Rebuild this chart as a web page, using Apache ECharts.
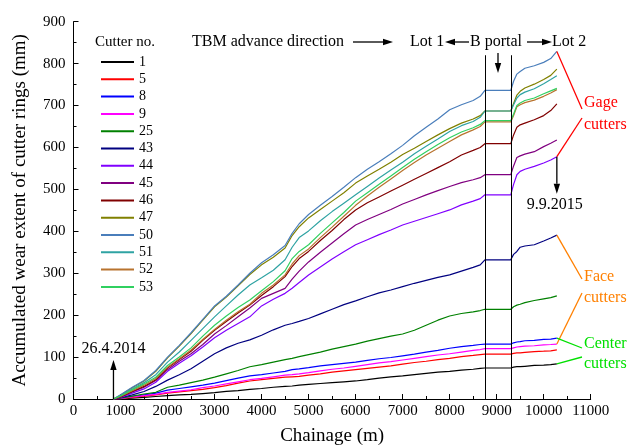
<!DOCTYPE html>
<html><head><meta charset="utf-8">
<script src="https://cdn.jsdelivr.net/npm/echarts@6/dist/echarts.min.js"></script>
<style>html,body{margin:0;padding:0;background:#fff}#c{width:627px;height:448px}</style>
</head><body><div id="c"></div><script>
// Chainage (m) at which the wear values are read
const chainage = [850,1000,1250,1500,1750,2000,2250,2500,2750,3000,3250,3500,3750,4000,4250,4500,4650,4800,5000,5250,5500,5750,6000,6250,6500,6750,7000,7250,7500,7750,8000,8250,8500,8650,8750,9300,9360,9430,9500,9600,9800,10000,10150,10280];
const cutterNames = ['1','5','8','9','25','43','44','45','46','47','50','51','52','53'];
const cutter1  = [0,0,2,4,6,8,10,11,13,15,18,20,23,25,28,30,31,33,35,37,39,41,43,46,50,53,55,58,61,64,66,69,71,73,74,74,76,77,77,78,80,81,82,84];
const cutter5  = [0,1,4,7,10,14,17,20,23,27,32,38,43,46,49,52,53,54,57,60,64,67,70,73,76,79,83,87,90,94,97,101,104,106,107,107,109,110,110,111,113,114,115,117];
const cutter8  = [0,2,6,10,14,21,25,29,33,38,44,50,55,58,62,66,70,72,75,79,82,85,88,92,96,99,103,107,112,116,121,125,128,130,131,131,134,136,137,139,140,142,143,145];
const cutter9  = [0,1,5,8,11,16,19,22,27,31,36,41,46,49,53,57,58,60,63,67,71,74,78,82,86,89,93,97,101,105,108,112,116,118,120,120,122,124,125,126,127,129,130,131];
const cutter25 = [0,2,7,12,16,28,33,39,45,52,60,68,77,82,88,94,97,101,106,112,119,125,131,138,144,150,155,164,176,188,198,204,208,211,214,214,220,224,226,230,235,239,242,246];
const cutter43 = [0,3,10,18,30,45,58,72,90,108,122,133,141,152,165,176,180,185,192,203,214,225,234,244,253,260,268,276,283,290,296,305,314,320,332,332,345,352,362,365,368,377,384,391];
const cutter44 = [0,4,14,24,40,66,85,103,124,146,164,180,196,222,238,252,264,278,296,315,334,351,368,380,392,403,415,424,433,442,451,463,472,478,487,487,512,535,543,548,555,563,570,578];
const cutter45 = [0,5,17,28,44,70,90,108,130,155,175,196,217,240,252,264,286,305,327,350,372,394,415,428,440,452,465,476,487,497,507,516,523,528,535,535,556,576,580,584,590,602,610,618];
const cutter46 = [0,5,18,30,46,74,94,114,140,164,185,205,224,247,268,292,316,335,352,378,402,428,451,468,482,496,510,524,538,552,566,582,593,600,609,609,630,648,654,658,666,676,688,704];
const cutter47 = [0,9,27,43,66,98,126,156,188,220,243,270,297,320,338,360,390,411,432,452,472,492,515,532,548,565,583,598,614,630,645,658,668,676,687,687,705,725,734,742,751,762,772,787];
const cutter50 = [0,10,28,44,68,100,128,158,190,222,245,272,300,325,344,366,395,418,440,462,483,505,528,548,566,585,605,628,648,668,690,702,712,722,736,736,758,775,781,789,795,803,812,829];
const cutter51 = [0,8,24,39,58,88,112,140,168,196,222,248,272,289,307,332,362,385,401,425,447,467,487,507,527,546,565,585,603,620,638,652,662,672,687,687,702,718,726,732,740,752,762,771];
const cutter52 = [0,6,20,33,49,76,96,117,142,166,188,208,226,252,272,296,322,342,358,385,410,436,462,484,505,525,545,564,582,598,614,630,642,650,661,661,676,697,702,707,713,722,730,738];
const cutter53 = [0,7,22,36,52,80,100,122,150,176,198,218,236,258,280,306,335,352,368,395,420,445,472,492,512,532,552,572,590,607,623,637,647,655,664,664,680,700,706,712,718,728,735,741];
const allValues = [cutter1,cutter5,cutter8,cutter9,cutter25,cutter43,cutter44,cutter45,cutter46,cutter47,cutter50,cutter51,cutter52,cutter53];
const xTicks = [0,1000,2000,3000,4000,5000,6000,7000,8000,9000,10000,11000];
const yTicks = [0,100,200,300,400,500,600,700,800,900];
const portalStart = 8750, portalEnd = 9300, portalLineTop = 820;
const startChainage = 850;

const colors = ['#000000','#FF0000','#0000FF','#FF00FF','#008000','#000080','#8000FF','#800080','#800000','#808000','#4A7EBB','#2FA3A3','#B8732E','#30D060'];
const FONT = "'Liberation Serif','Times New Roman',serif";

const series = allValues.map((vals,k)=>({
  name: cutterNames[k], type:'line', symbol:'none', showSymbol:false,
  data: chainage.map((c,i)=>[c, vals[i]]),
  lineStyle:{color:colors[k], width:1.2}, itemStyle:{color:colors[k]},
  emphasis:{disabled:true}, z: 3
}));
series[0].markLine = {
  silent:true, symbol:['none','none'], label:{show:false},
  lineStyle:{color:'#000', width:1, type:'solid'},
  data:[
    [{coord:[portalStart,0]},{coord:[portalStart,portalLineTop]}],
    [{coord:[portalEnd,0]},{coord:[portalEnd,portalLineTop]}]
  ]
};

const axisCommon = {
  axisLine:{show:true, lineStyle:{color:'#000', width:1}},
  axisTick:{show:true, inside:true, length:5, lineStyle:{color:'#000'}},
  minorTick:{show:true, splitNumber:2, length:3, lineStyle:{color:'#000'}},
  splitLine:{show:false},
  axisLabel:{color:'#000', fontFamily:FONT, fontSize:15, formatter:v=>String(v)},
  nameTextStyle:{color:'#000', fontFamily:FONT, fontSize:19}
};

const option = {
  animation:false,
  backgroundColor:'#fff',
  grid:{left:73.5, right:36.3, top:21.7, bottom:49, containLabel:false, outerBoundsMode:'none'},
  xAxis: Object.assign({}, axisCommon, {
    type:'value', min:xTicks[0], max:xTicks[xTicks.length-1], interval:1000,
    name:'Chainage (m)', nameLocation:'middle', nameGap:28,
    axisLabel:Object.assign({}, axisCommon.axisLabel, {margin:5})
  }),
  yAxis: Object.assign({}, axisCommon, {
    type:'value', min:yTicks[0], max:yTicks[yTicks.length-1], interval:100,
    name:'Accumulated wear extent of cutter rings (mm)', nameLocation:'middle', nameGap:44,
    axisLabel:Object.assign({}, axisCommon.axisLabel, {margin:8})
  }),
  legend:{
    show:true, orient:'vertical', left:96, top:50, icon:'rect',
    itemWidth:33, itemHeight:2, itemGap:3.3,
    textStyle:{color:'#000', fontFamily:FONT, fontSize:14, lineHeight:14},
    selectedMode:false, data:cutterNames
  },
  series
};

const chart = echarts.init(document.getElementById('c'), null, {renderer:'canvas'});
chart.setOption(option);

const P = (x,y)=>chart.convertToPixel({gridIndex:0},[x,y]);
const g = [];
function seg(p1,p2,color,w){ g.push({type:'line', silent:true, z:10, shape:{x1:p1[0],y1:p1[1],x2:p2[0],y2:p2[1]}, style:{stroke:color, lineWidth:w||1.2}}); }
function arrow(p1,p2,color){
  const dx=p2[0]-p1[0], dy=p2[1]-p1[1], L=Math.hypot(dx,dy), ux=dx/L, uy=dy/L;
  const hl=10, hw=3.2, bx=p2[0]-ux*hl, by=p2[1]-uy*hl;
  seg(p1,[bx,by],color,1.3);
  g.push({type:'polygon', silent:true, z:10, shape:{points:[[p2[0],p2[1]],[bx-uy*hw,by+ux*hw],[bx+uy*hw,by-ux*hw]]}, style:{fill:color}});
}
function txt(x,y,s,color,size,align){
  g.push({type:'text', silent:true, z:10, x:x, y:y, style:{text:s, fill:color, font:size+'px '+FONT, align:align||'left', textAlign:align||'left', verticalAlign:'middle', textVerticalAlign:'middle'}});
}
const last = chainage.length-1;
const endOf = k => P(chainage[last], allValues[k][last]);
const iOf = n => cutterNames.indexOf(n);

// Top annotations
txt(95,42,'Cutter no.','#000',15);
txt(192,42,'TBM advance direction','#000',16);
arrow([353,42],[393,42],'#000');
txt(410,42,'Lot 1','#000',16);
arrow([469,42],[445,42],'#000');
txt(470,42,'B portal','#000',16);
arrow([527,42],[552,42],'#000');
txt(552,42,'Lot 2','#000',16);
arrow([498,53],[498,73],'#000');

// Start marker
const s0 = P(startChainage,0);
arrow([s0[0],s0[1]],[s0[0],s0[1]-39],'#000');
txt(s0[0],s0[1]-50,'26.4.2014','#000',16,'center');

// Gage cutters (red)
const e50 = endOf(iOf('50')), e44 = endOf(iOf('44'));
seg(e50,[582,109],'#FF0000',1.3);
seg([582,118],e44,'#FF0000',1.3);
txt(584,103,'Gage','#FF0000',16);
txt(584,125,'cutters','#FF0000',16);
arrow([e44[0],e44[1]],[e44[0],e44[1]+37],'#000');
txt(e44[0]-2,e44[1]+48,'9.9.2015','#000',16,'center');

// Face cutters (orange)
const e43 = endOf(iOf('43')), e9 = endOf(iOf('9'));
seg(e43,[582,279],'#FF8000',1.3);
seg([582,293],e9,'#FF8000',1.3);
txt(584,277,'Face','#FF8000',16);
txt(584,298,'cutters','#FF8000',16);

// Center cutters (green)
const e8 = endOf(iOf('8')), e1 = endOf(iOf('1'));
seg(e8,[582,348],'#00E000',1.3);
seg(e1,[582,357],'#00E000',1.3);
txt(584,344,'Center','#00E000',16);
txt(584,364,'cutters','#00E000',16);

chart.setOption({graphic: g});
</script></body></html>
